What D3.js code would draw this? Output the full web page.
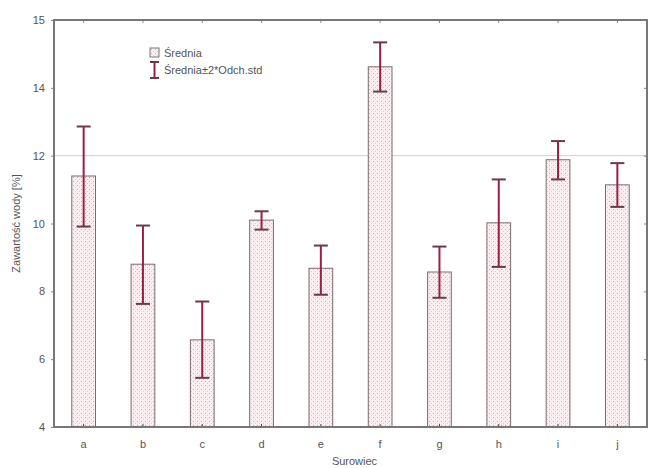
<!DOCTYPE html>
<html>
<head>
<meta charset="utf-8">
<script src="https://cdn.jsdelivr.net/npm/d3@7"></script>
<style>
  body { margin: 0; background: #fff; }
  svg { display: block; font-family: "Liberation Sans", Arial, sans-serif; }
</style>
</head>
<body>
<svg width="649" height="468"></svg>
<script>
// data
var categories = ['a', 'b', 'c', 'd', 'e', 'f', 'g', 'h', 'i', 'j'];
var means  = [11.40, 8.80, 6.57, 10.10, 8.68, 14.62, 8.57, 10.02, 11.88, 11.14];
var errLow = [9.91, 7.63, 5.45, 9.82, 7.90, 13.89, 7.81, 8.72, 11.30, 10.49];
var errHigh = [12.86, 9.94, 7.70, 10.36, 9.35, 15.34, 9.32, 11.30, 12.43, 11.78];
var yTicks = [4, 6, 8, 10, 12, 14, 16];
var yTickLabels = ['4', '6', '8', '10', '12', '14', '15'];

var svg = d3.select('svg'),
    plotLeft = 54, plotRight = 647, plotTop = 20, plotBottom = 427;

var xScale = d3.scaleBand().domain(categories).range([plotLeft, plotRight]).paddingInner(0.6).paddingOuter(0.3);
var yScale = d3.scaleLinear().domain([4, 16]).range([plotBottom, plotTop]);

var defs = svg.append('defs');
var pat = defs.append('pattern')
    .attr('id', 'dots').attr('patternUnits', 'userSpaceOnUse')
    .attr('width', 4).attr('height', 4);
pat.append('rect').attr('width', 4).attr('height', 4).attr('fill', '#fbeef1');
pat.append('rect').attr('x', 1).attr('y', 1).attr('width', 1).attr('height', 1).attr('fill', '#c9a9b2');
pat.append('rect').attr('x', 3).attr('y', 3).attr('width', 1).attr('height', 1).attr('fill', '#e2c6ce');

// reference line at 12
svg.append('line')
    .attr('x1', plotLeft).attr('x2', plotRight)
    .attr('y1', yScale(12)).attr('y2', yScale(12))
    .attr('stroke', '#cfcfcf').attr('stroke-width', 1);

var data = categories.map(function(c, i) {
    return {cat: c, mean: means[i], lo: errLow[i], hi: errHigh[i]};
});

svg.selectAll('rect.bar').data(data)
  .enter().append('rect')
    .attr('class', 'bar')
    .attr('x', function(d) { return xScale(d.cat); })
    .attr('y', function(d) { return yScale(d.mean); })
    .attr('width', xScale.bandwidth())
    .attr('height', function(d) { return yScale(4) - yScale(d.mean); })
    .attr('fill', 'url(#dots)')
    .attr('stroke', '#7a6a70').attr('stroke-width', 1);

var eb = svg.selectAll('g.err').data(data).enter().append('g')
    .attr('transform', function(d) { return 'translate(' + (xScale(d.cat) + xScale.bandwidth() / 2) + ',0)'; });
eb.append('line')
    .attr('y1', function(d) { return yScale(d.lo); })
    .attr('y2', function(d) { return yScale(d.hi); })
    .attr('stroke', '#9b1f45').attr('stroke-width', 2);
eb.append('line')
    .attr('x1', -7).attr('x2', 7)
    .attr('y1', function(d) { return yScale(d.hi); })
    .attr('y2', function(d) { return yScale(d.hi); })
    .attr('stroke', '#6b3a4a').attr('stroke-width', 2);
eb.append('line')
    .attr('x1', -7).attr('x2', 7)
    .attr('y1', function(d) { return yScale(d.lo); })
    .attr('y2', function(d) { return yScale(d.lo); })
    .attr('stroke', '#6b3a4a').attr('stroke-width', 2);

// axes
var yAxis = svg.append('g')
    .attr('transform', 'translate(' + plotLeft + ',0)')
    .call(d3.axisLeft(yScale).tickValues(yTicks)
        .tickFormat(function(d, i) { return yTickLabels[i]; })
        .tickSize(3).tickPadding(6));
yAxis.select('.domain').remove();
yAxis.selectAll('line').attr('stroke', '#888');
yAxis.selectAll('text').attr('fill', '#555').style('font-size', '11px');

var yRight = svg.append('g')
    .attr('transform', 'translate(' + plotRight + ',0)')
    .call(d3.axisLeft(yScale).tickValues(yTicks).tickFormat('').tickSize(3));
yRight.select('.domain').remove();
yRight.selectAll('line').attr('stroke', '#888');

var xAxis = svg.append('g')
    .attr('transform', 'translate(0,' + plotBottom + ')')
    .call(d3.axisBottom(xScale).tickSize(0).tickPadding(13));
xAxis.select('.domain').remove();
xAxis.selectAll('text').attr('fill', '#555').style('font-size', '11px');

var xTop = svg.append('g')
    .attr('transform', 'translate(0,' + plotTop + ')')
    .call(d3.axisBottom(xScale).tickSize(3).tickFormat(''));
xTop.select('.domain').remove();
xTop.selectAll('line').attr('stroke', '#888');

var xBot = svg.append('g')
    .attr('transform', 'translate(0,' + plotBottom + ')')
    .call(d3.axisTop(xScale).tickSize(3).tickFormat(''));
xBot.select('.domain').remove();
xBot.selectAll('line').attr('stroke', '#444');

// frame
svg.append('rect')
    .attr('x', plotLeft).attr('y', plotTop)
    .attr('width', plotRight - plotLeft).attr('height', plotBottom - plotTop)
    .attr('fill', 'none').attr('stroke', '#777').attr('stroke-width', 2);

// axis titles
svg.append('text')
    .attr('x', (plotLeft + plotRight) / 2 + 4).attr('y', 465)
    .attr('text-anchor', 'middle').attr('fill', '#555').style('font-size', '11px')
    .text('Surowiec');
svg.append('text')
    .attr('transform', 'translate(20,' + ((plotTop + plotBottom) / 2) + ') rotate(-90)')
    .attr('text-anchor', 'middle').attr('fill', '#555').style('font-size', '11px')
    .text('Zawartość wody [%]');

// legend
var lg = svg.append('g').attr('transform', 'translate(150,48)');
lg.append('rect').attr('x', 0).attr('y', 0).attr('width', 9).attr('height', 9)
    .attr('fill', 'url(#dots)').attr('stroke', '#777');
lg.append('line').attr('x1', 4.5).attr('x2', 4.5).attr('y1', 14).attr('y2', 30)
    .attr('stroke', '#9b1f45').attr('stroke-width', 2);
lg.append('line').attr('x1', 0).attr('x2', 9).attr('y1', 14).attr('y2', 14)
    .attr('stroke', '#6b3a4a').attr('stroke-width', 2);
lg.append('line').attr('x1', 0).attr('x2', 9).attr('y1', 30).attr('y2', 30)
    .attr('stroke', '#6b3a4a').attr('stroke-width', 2);
lg.append('text').attr('x', 14).attr('y', 9).attr('fill', '#555').style('font-size', '11px')
    .text('Średnia');
lg.append('text').attr('x', 14).attr('y', 26).attr('fill', '#555').style('font-size', '11px')
    .text('Średnia±2*Odch.std');
</script>
</body>
</html>
